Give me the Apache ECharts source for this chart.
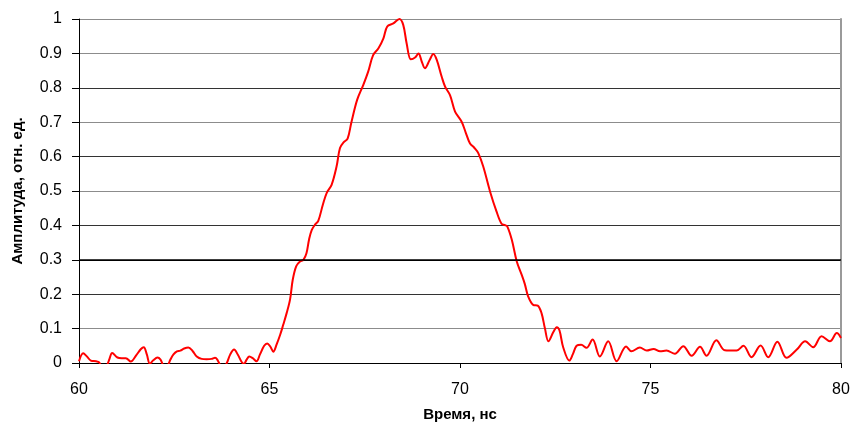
<!DOCTYPE html>
<html>
<head>
<meta charset="utf-8">
<script src="https://cdn.jsdelivr.net/npm/echarts@6/dist/echarts.min.js"></script>
<style>
  html, body { margin: 0; padding: 0; background: #fff; }
  #chart { width: 853px; height: 428px; }
</style>
</head>
<body>
<div id="chart"></div>
<script>
// Pulse envelope: time (ns) and normalised amplitude
const timeNs = [
  60.00, 60.11, 60.20, 60.31, 60.45, 60.53, 60.62, 60.72, 60.80, 60.87,
  61.01, 61.12, 61.23, 61.36, 61.50, 61.62, 61.70, 61.78, 61.86, 61.95,
  62.06, 62.14, 62.24, 62.32, 62.40, 62.48, 62.57, 62.66, 62.76, 62.87,
  62.98, 63.09, 63.22, 63.35, 63.48, 63.57, 63.63, 63.70, 63.79, 63.88,
  63.97, 64.07, 64.17, 64.27, 64.33, 64.40, 64.47, 64.56, 64.66, 64.75,
  64.86, 64.94, 65.02, 65.10, 65.19, 65.28, 65.36, 65.45, 65.54, 65.61,
  65.70, 65.80, 65.89, 65.97, 66.04, 66.11, 66.20, 66.28, 66.40, 66.50,
  66.63, 66.76, 66.85, 66.95, 67.05, 67.15, 67.30, 67.46, 67.59, 67.72,
  67.86, 67.99, 68.09, 68.25, 68.41, 68.51, 68.60, 68.71, 68.82, 68.91,
  69.00, 69.08, 69.20, 69.30, 69.39, 69.52, 69.61, 69.74, 69.87, 70.04,
  70.15, 70.26, 70.38, 70.48, 70.61, 70.79, 70.96, 71.09, 71.18, 71.24,
  71.36, 71.49, 71.62, 71.70, 71.79, 71.92, 72.04, 72.14, 72.23, 72.32,
  72.45, 72.54, 72.61, 72.71, 72.87, 72.96, 73.06, 73.18, 73.32, 73.48,
  73.67, 73.89, 74.11, 74.36, 74.50, 74.72, 74.90, 75.08, 75.25, 75.42,
  75.64, 75.86, 76.08, 76.30, 76.47, 76.73, 76.95, 77.26, 77.44, 77.65,
  77.89, 78.09, 78.33, 78.57, 78.84, 79.06, 79.27, 79.49, 79.71, 79.89,
  80.00
];
const amplitude = [
  0.005, 0.028, 0.020, 0.007, 0.005, 0.002, -0.015, -0.010, 0.012, 0.029,
  0.016, 0.014, 0.014, 0.004, 0.022, 0.040, 0.046, 0.025, -0.002, 0.008,
  0.016, 0.010, -0.010, -0.008, 0.010, 0.025, 0.034, 0.036, 0.042, 0.045,
  0.035, 0.019, 0.012, 0.011, 0.012, 0.015, 0.010, -0.005, -0.015, 0.000,
  0.025, 0.039, 0.024, 0.003, -0.002, 0.010, 0.019, 0.014, 0.005, 0.025,
  0.050, 0.057, 0.048, 0.033, 0.055, 0.082, 0.111, 0.145, 0.185, 0.242,
  0.281, 0.295, 0.300, 0.319, 0.360, 0.387, 0.403, 0.413, 0.460, 0.494,
  0.518, 0.571, 0.625, 0.642, 0.652, 0.700, 0.765, 0.808, 0.847, 0.895,
  0.915, 0.944, 0.978, 0.987, 1.000, 0.983, 0.929, 0.883, 0.888, 0.900,
  0.875, 0.857, 0.880, 0.898, 0.881, 0.832, 0.803, 0.778, 0.731, 0.702,
  0.670, 0.639, 0.625, 0.610, 0.571, 0.498, 0.440, 0.405, 0.401, 0.397,
  0.358, 0.295, 0.256, 0.230, 0.193, 0.169, 0.167, 0.145, 0.100, 0.063,
  0.090, 0.104, 0.095, 0.045, 0.007, 0.025, 0.050, 0.053, 0.044, 0.068,
  0.019, 0.063, 0.005, 0.048, 0.034, 0.045, 0.036, 0.041, 0.034, 0.036,
  0.027, 0.049, 0.021, 0.047, 0.021, 0.066, 0.037, 0.036, 0.050, 0.017,
  0.051, 0.017, 0.062, 0.015, 0.039, 0.063, 0.046, 0.078, 0.063, 0.087,
  0.073
];
const yTickLabels = ['0', '0.1', '0.2', '0.3', '0.4', '0.5', '0.6', '0.7', '0.8', '0.9', '1'];
const xTitle = 'Время, нс';
const yTitle = 'Амплитуда, отн. ед.';

const points = timeNs.map((t, i) => [t, amplitude[i]]);
const font = '"Liberation Sans", Arial, sans-serif';

const chart = echarts.init(document.getElementById('chart'), null, { renderer: 'canvas' });
chart.setOption({
  animation: false,
  backgroundColor: '#ffffff',
  grid: { left: 79, right: 12, top: 19, bottom: 65, containLabel: false },
  xAxis: {
    type: 'value',
    min: 60, max: 80, interval: 5,
    name: xTitle,
    nameLocation: 'middle',
    nameGap: 44,
    nameTextStyle: { fontFamily: font, fontSize: 15, fontWeight: 'bold', color: '#000' },
    axisLine: { show: true, onZero: false, lineStyle: { color: '#000', width: 1 } },
    axisTick: { show: true, length: 5, lineStyle: { color: '#000' } },
    axisLabel: { fontFamily: font, fontSize: 16, color: '#000', margin: 19 },
    splitLine: { show: false }
  },
  yAxis: [{
    type: 'value',
    min: 0, max: 1, interval: 0.1,
    name: yTitle,
    nameLocation: 'middle',
    nameGap: 54,
    nameTextStyle: { fontFamily: font, fontSize: 15, fontWeight: 'bold', color: '#000' },
    axisLine: { show: true, lineStyle: { color: '#000', width: 1 } },
    axisTick: { show: true, length: 7, lineStyle: { color: '#000' } },
    axisLabel: {
      fontFamily: font, fontSize: 16, color: '#000', margin: 17,
      formatter: (v) => yTickLabels[Math.round(v * 10)]
    },
    splitLine: {
      show: true,
      lineStyle: {
        width: 1,
        color: ['#000', '#8c8c8c', '#333', '#000', '#333', '#8c8c8c', '#333', '#8c8c8c', '#333', '#8c8c8c', '#8c8c8c']
      }
    }
  }, {
    type: 'value',
    position: 'right',
    min: 0, max: 1,
    axisLine: { show: true, lineStyle: { color: '#9a9a9a', width: 2 } },
    axisTick: { show: false },
    axisLabel: { show: false },
    splitLine: { show: false }
  }],
  series: [{
    type: 'line',
    data: points,
    yAxisIndex: 0,
    smooth: 0.35,
    symbol: 'none',
    clip: true,
    lineStyle: { color: '#ff0000', width: 2 },
    markLine: {
      silent: true,
      symbol: 'none',
      label: { show: false },
      lineStyle: { color: '#000', width: 1.5, type: 'solid' },
      data: [{ yAxis: 0.3 }]
    },
    z: 3
  }]
});
</script>
</body>
</html>
